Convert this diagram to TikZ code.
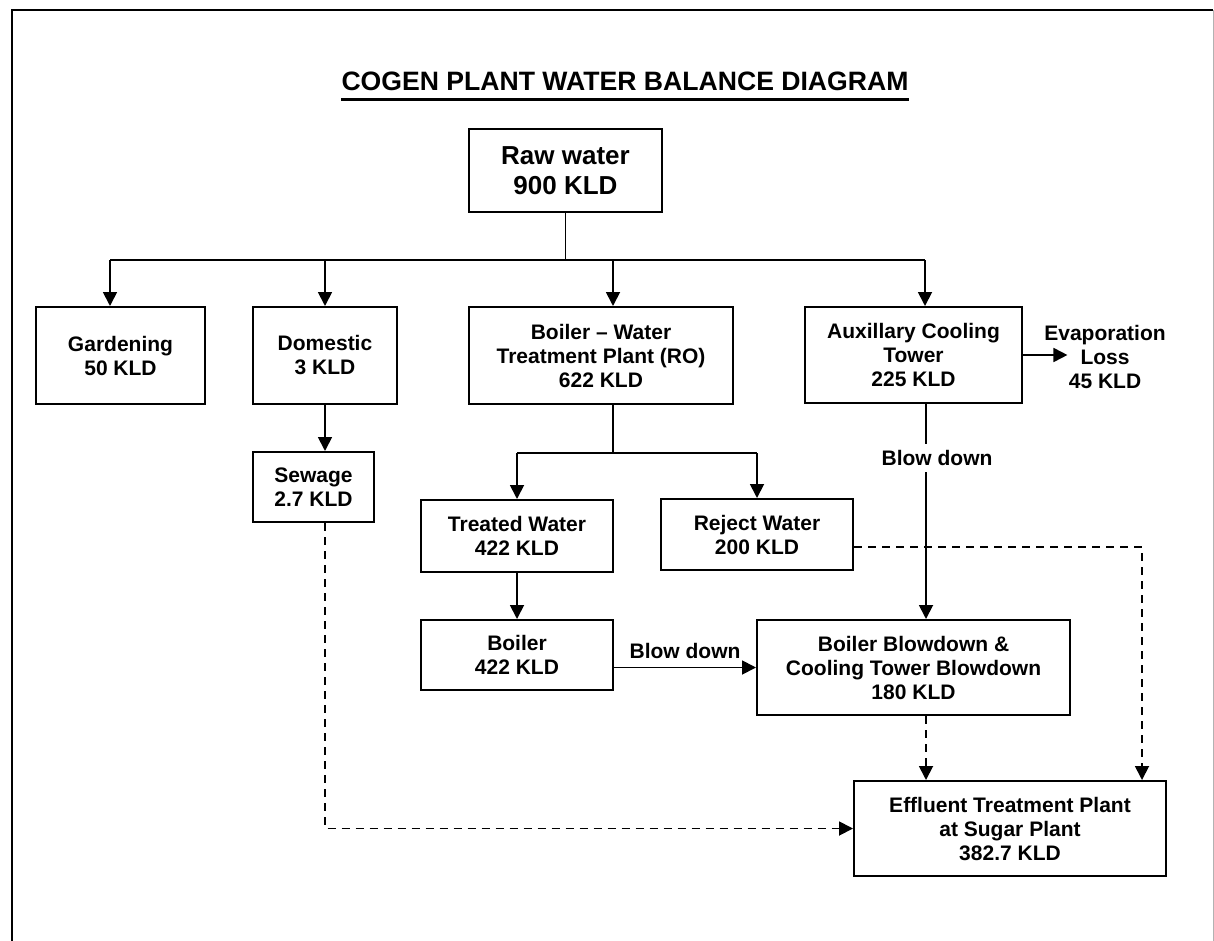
\documentclass[tikz,border=0pt]{standalone}
\usepackage{fontspec}
\setmainfont{Liberation Sans}
\usetikzlibrary{arrows.meta}
\tikzset{
	box/.style={draw, line width=1pt, inner sep=0pt, align=center, font=\bfseries\fontsize{10.5}{12}\selectfont},
	flow/.style={line width=0.9pt, -{Triangle[length=7pt,width=7pt]}},
	dflow/.style={flow, dash pattern=on 4pt off 3pt},
	lbl/.style={inner sep=1pt, align=center, font=\bfseries\fontsize{10.5}{12}\selectfont}
}
\begin{document}
\begin{tikzpicture}[x=0.5pt, y=-0.5pt]
	\useasboundingbox (0,0) rectangle (1214,941);
	% page frame
	\draw[line width=1.3pt] (12,960) |- (1213,10);
	\draw[gray!60, line width=0.5pt] (1213,10) -- (1213,960);

	\node (title) [inner sep=0pt, font=\bfseries\fontsize{13.3}{16}\selectfont] at (625,81) {COGEN PLANT WATER BALANCE DIAGRAM};
	\draw[line width=1.4pt] ([yshift=-4.5pt]title.base west) -- ([yshift=-4.5pt]title.base east);

	\node (raw) [box, minimum width=96.5pt, minimum height=41.5pt, font=\bfseries\fontsize{13}{15}\selectfont] at (565.5,170.5) {Raw water\\900 KLD};

	\node (gard) [box, minimum width=84.5pt, minimum height=48.5pt] at (120.5,355.5) {Gardening\\50 KLD};
	\node (dom) [box, minimum width=72pt, minimum height=48.5pt] at (325,355.5) {Domestic\\3 KLD};
	\node (wtp) [box, minimum width=132pt, minimum height=48.5pt] at (601,355.5) {Boiler -- Water\\Treatment Plant (RO)\\622 KLD};
	\node (aux) [box, minimum width=108.5pt, minimum height=48pt] at (913.5,355) {Auxillary Cooling\\Tower\\225 KLD};
	\node (evap) [lbl, inner sep=0pt] at (1105,357) {Evaporation\\Loss\\45 KLD};

	\node (sewage) [box, minimum width=60.5pt, minimum height=35pt] at (313.5,487) {Sewage\\2.7 KLD};
	\node (treated) [box, minimum width=96pt, minimum height=36pt] at (517,536) {Treated Water\\422 KLD};
	\node (reject) [box, minimum width=96pt, minimum height=35.5pt] at (757,534.5) {Reject Water\\200 KLD};
	\node (boiler) [box, minimum width=96pt, minimum height=35pt] at (517,655) {Boiler\\422 KLD};
	\node (bbct) [box, minimum width=156.5pt, minimum height=47.5pt] at (913.5,667.5) {Boiler Blowdown \&\\Cooling Tower Blowdown\\180 KLD};
	\node (etp) [box, minimum width=156pt, minimum height=47.5pt] at (1010,828.5) {Effluent Treatment Plant\\at Sugar Plant\\382.7 KLD};

	% raw water split
	\coordinate (split) at (565.5,260);
	\draw[line width=0.9pt] (raw.south) -- (split);
	\draw[line width=0.9pt] (110,260) -- (925,260);
	\draw[flow] (110,260) -- (gard.north -| 110,0);
	\draw[flow] (dom.north |- split) -- (dom.north);
	\draw[flow] (613,260) -- ([xshift=6pt]wtp.north);
	\draw[flow] (925,260) -- ([xshift=5.75pt]aux.north);

	\draw[flow] (dom) -- (dom.south |- sewage.north);
	\draw[flow] (aux.east) -- ([xshift=11.75pt]aux.east -| evap.west);

	% water treatment split
	\draw[line width=0.9pt] ([xshift=6pt]wtp.south) -- ++(0,48) coordinate (wsplit);
	\draw[line width=0.9pt] (treated.north |- wsplit) -- (reject.north |- wsplit);
	\draw[flow] (treated.north |- wsplit) -- (treated.north);
	\draw[flow] (reject.north |- wsplit) -- (reject.north);
	\draw[flow] (treated) -- (boiler);

	\draw[flow] (boiler.east |- bbct.west) -- node (bdb) [lbl, above, yshift=3pt] {Blow down} (bbct.west);
	\draw[flow] ([xshift=6.25pt]aux.south) -- ([xshift=6.25pt]aux.south |- bbct.north);
	\node (bda) [lbl, fill=white, inner sep=3pt] at (937,458) {Blow down};

	% to effluent plant
	\draw[dflow] ([xshift=6.25pt]bbct.south) -- ([xshift=6.25pt]bbct.south |- etp.north);
	\draw[dflow] ([yshift=-6.25pt]reject.east) -| ([xshift=66pt]etp.north);
	\draw[dflow] ([xshift=5.75pt]sewage.south) |- (etp.west);
\end{tikzpicture}
\end{document}
